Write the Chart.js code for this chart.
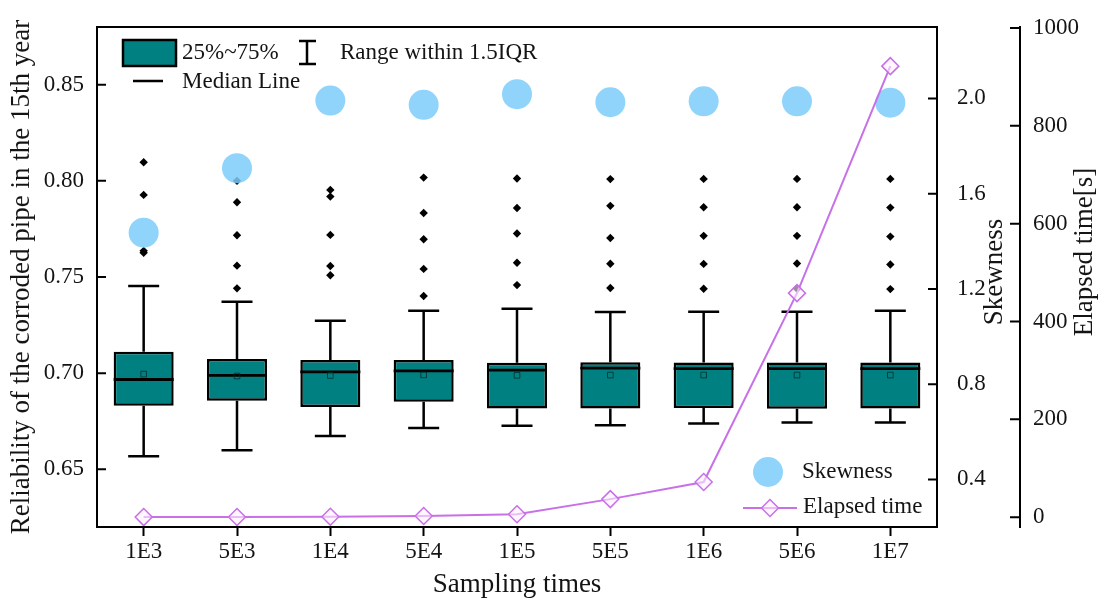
<!DOCTYPE html>
<html>
<head>
<meta charset="utf-8">
<title>Sampling times</title>
<script src="https://cdn.jsdelivr.net/npm/chart.js@4.4.1/dist/chart.umd.min.js"></script>
<style>
  html, body { margin: 0; padding: 0; background: #fff; }
  canvas { display: block; }
</style>
</head>
<body>
<canvas id="chart" width="1103" height="603"></canvas>
<script>
const categories = ["1E3", "5E3", "1E4", "5E4", "1E5", "5E5", "1E6", "5E6", "1E7"];

const q1 = [0.6830, 0.6856, 0.6824, 0.6851, 0.6816, 0.6816, 0.6819, 0.6815, 0.6816];
const q3 = [0.7111, 0.7074, 0.7068, 0.7068, 0.7054, 0.7057, 0.7056, 0.7056, 0.7056];
const medians = [0.6967, 0.6988, 0.7007, 0.7012, 0.7016, 0.7026, 0.7024, 0.7024, 0.7024];
const means = [0.6995, 0.6985, 0.6988, 0.6991, 0.6989, 0.6990, 0.6990, 0.6990, 0.6990];
const whiskerHigh = [0.7453, 0.7371, 0.7272, 0.7324, 0.7335, 0.7318, 0.7319, 0.7319, 0.7324];
const whiskerLow = [0.6568, 0.6599, 0.6673, 0.6715, 0.6726, 0.6729, 0.6738, 0.6743, 0.6743];
const outliers = [
  [0.8097, 0.7927, 0.7636, 0.7626],
  [0.8000, 0.7889, 0.7717, 0.7559, 0.7441],
  [0.7953, 0.7918, 0.7719, 0.7557, 0.7509],
  [0.8017, 0.7833, 0.7696, 0.7542, 0.7401],
  [0.8012, 0.7859, 0.7726, 0.7574, 0.7458],
  [0.8009, 0.7870, 0.7703, 0.7569, 0.7443],
  [0.8010, 0.7863, 0.7714, 0.7568, 0.7439],
  [0.8010, 0.7863, 0.7714, 0.7570, 0.7439],
  [0.8010, 0.7861, 0.7710, 0.7565, 0.7437]
];
const skewness = [1.436, 1.707, 1.991, 1.973, 2.018, 1.984, 1.988, 1.988, 1.982];
const elapsedTime = [0.3, 0.5, 1, 2.5, 6, 37, 72, 458, 922];

const reliabilityTicks = [0.65, 0.70, 0.75, 0.80, 0.85];
const skewTicks = [0.4, 0.8, 1.2, 1.6, 2.0];
const timeTicks = [0, 200, 400, 600, 800, 1000];

const FONT = "'Liberation Serif', 'Times New Roman', serif";
const TEXT = "#141414";
const TEAL = "#008080";
const SKY = "rgba(125, 205, 250, 0.85)";
const VIOLET = "#c870e8";

const outlierPoints = [];
outliers.forEach((lista, i) => lista.forEach(v => outlierPoints.push({ x: categories[i], y: v })));

function setTicks(values) {
  return function (scale) {
    scale.ticks = values.map(v => ({ value: v }));
  };
}

function drawText(ctx, txt, x, y, size, rot) {
  ctx.save();
  ctx.translate(x, y);
  if (rot) ctx.rotate(rot);
  ctx.font = `${size}px ${FONT}`;
  ctx.fillStyle = TEXT;
  ctx.textBaseline = "middle";
  ctx.textAlign = rot ? "center" : "left";
  ctx.fillText(txt, 0, 0);
  ctx.restore();
}

const boxPlot = {
  id: "boxPlot",
  beforeDatasetsDraw(chart) {
    const { ctx, scales: { x, y } } = chart;
    ctx.save();
    ctx.strokeStyle = "#000";
    ctx.lineWidth = 2.5;
    categories.forEach((c, i) => {
      const px = x.getPixelForValue(i);
      const hi = y.getPixelForValue(whiskerHigh[i]);
      const lo = y.getPixelForValue(whiskerLow[i]);
      ctx.beginPath();
      ctx.moveTo(px, hi); ctx.lineTo(px, y.getPixelForValue(q3[i]));
      ctx.moveTo(px, lo); ctx.lineTo(px, y.getPixelForValue(q1[i]));
      ctx.moveTo(px - 15.5, hi); ctx.lineTo(px + 15.5, hi);
      ctx.moveTo(px - 15.5, lo); ctx.lineTo(px + 15.5, lo);
      ctx.stroke();
    });
    ctx.restore();
  },
  afterDatasetDraw(chart, args) {
    if (args.index !== 0) return;
    const { ctx, scales: { y } } = chart;
    ctx.save();
    ctx.strokeStyle = "#000";
    ctx.lineWidth = 2.8;
    args.meta.data.forEach((bar, i) => {
      const w = bar.width / 2;
      const py = y.getPixelForValue(medians[i]);
      ctx.beginPath();
      ctx.moveTo(bar.x - w, py);
      ctx.lineTo(bar.x + w, py);
      ctx.stroke();
    });
    ctx.restore();
  },
  afterDraw(chart) {
    const { ctx, chartArea: a, scales: { y, ySkew, yTime } } = chart;
    ctx.save();
    ctx.strokeStyle = "#000";
    ctx.lineWidth = 2;
    ctx.strokeRect(a.left, a.top, a.right - a.left, a.bottom - a.top);

    // ticks of the three y axes point to the left / inward
    ctx.beginPath();
    reliabilityTicks.forEach(v => {
      const py = y.getPixelForValue(v);
      ctx.moveTo(a.left, py); ctx.lineTo(a.left + 9, py);
    });
    skewTicks.forEach(v => {
      const py = ySkew.getPixelForValue(v);
      ctx.moveTo(a.right - 9, py); ctx.lineTo(a.right, py);
    });
    timeTicks.forEach(v => {
      const py = yTime.getPixelForValue(v);
      ctx.moveTo(yTime.left - 10, py); ctx.lineTo(yTime.left, py);
    });
    ctx.stroke();

    drawText(ctx, "Skewness", ySkew.right - 25, (a.top + a.bottom) / 2 - 5, 27, -Math.PI / 2);
    drawText(ctx, "Elapsed time[s]", yTime.right - 18, (a.top + a.bottom) / 2 - 25, 27, -Math.PI / 2);

    // legend, top left
    ctx.fillStyle = TEAL;
    ctx.lineWidth = 2.5;
    ctx.fillRect(123, 40, 53, 26);
    ctx.strokeRect(123, 40, 53, 26);
    drawText(ctx, "25%~75%", 182, 53, 23);
    ctx.beginPath();
    ctx.moveTo(307, 41); ctx.lineTo(307, 64);
    ctx.moveTo(299, 41); ctx.lineTo(316, 41);
    ctx.moveTo(299, 64); ctx.lineTo(316, 64);
    ctx.moveTo(133, 81); ctx.lineTo(163, 81);
    ctx.stroke();
    drawText(ctx, "Range within 1.5IQR", 340, 53, 23);
    drawText(ctx, "Median Line", 182, 82, 23);

    // legend, bottom right
    ctx.fillStyle = SKY;
    ctx.beginPath();
    ctx.arc(768, 472, 15, 0, Math.PI * 2);
    ctx.fill();
    drawText(ctx, "Skewness", 802, 472, 23);
    ctx.strokeStyle = VIOLET;
    ctx.lineWidth = 2;
    ctx.beginPath();
    ctx.moveTo(743, 508); ctx.lineTo(797, 508);
    ctx.stroke();
    ctx.fillStyle = "rgba(255, 240, 255, 0.6)";
    ctx.lineWidth = 1.5;
    ctx.beginPath();
    ctx.moveTo(770, 499.5); ctx.lineTo(778.5, 508); ctx.lineTo(770, 516.5); ctx.lineTo(761.5, 508);
    ctx.closePath();
    ctx.fill();
    ctx.stroke();
    drawText(ctx, "Elapsed time", 803, 507, 23);
    ctx.restore();
  }
};

const tickFont = { family: FONT, size: 23 };
const titleFont = { family: FONT, size: 27 };

new Chart(document.getElementById("chart"), {
  type: "bar",
  data: {
    labels: categories,
    datasets: [
      {
        label: "25%~75%",
        data: q1.map((v, i) => [v, q3[i]]),
        backgroundColor: TEAL,
        borderColor: "#000",
        borderWidth: 2.5,
        borderSkipped: false,
        barPercentage: 0.643,
        categoryPercentage: 1,
        order: 5
      },
      {
        type: "line",
        label: "Mean",
        data: means,
        showLine: false,
        pointStyle: "rect",
        pointRadius: 4,
        pointBorderWidth: 1,
        pointBorderColor: "rgba(0, 45, 45, 0.8)",
        pointBackgroundColor: "rgba(0,0,0,0)",
        order: 4
      },
      {
        type: "line",
        label: "Outliers",
        data: outlierPoints,
        showLine: false,
        pointStyle: "rectRot",
        pointRadius: 4.2,
        pointBorderWidth: 0,
        pointBackgroundColor: "#000",
        order: 3
      },
      {
        type: "line",
        label: "Skewness",
        data: skewness,
        yAxisID: "ySkew",
        showLine: false,
        pointRadius: 15,
        pointBorderWidth: 0,
        pointBackgroundColor: SKY,
        order: 2
      },
      {
        type: "line",
        label: "Elapsed time",
        data: elapsedTime,
        yAxisID: "yTime",
        borderColor: VIOLET,
        borderWidth: 2,
        pointStyle: "rectRot",
        pointRadius: 8.5,
        pointBorderWidth: 1.5,
        pointBorderColor: VIOLET,
        pointBackgroundColor: "rgba(255, 240, 255, 0.6)",
        order: 1
      }
    ]
  },
  options: {
    responsive: false,
    animation: false,
    layout: { padding: { top: 27, left: 0, right: 0, bottom: 0 } },
    plugins: { legend: { display: false }, tooltip: { enabled: false } },
    scales: {
      x: {
        offset: true,
        grid: { offset: false, drawOnChartArea: false, tickLength: 9, tickWidth: 2, tickColor: "#000" },
        border: { color: "#000", width: 2 },
        ticks: { font: tickFont, color: TEXT, padding: 2, maxRotation: 0 },
        title: { display: true, text: "Sampling times", font: titleFont, color: TEXT, padding: { top: 0, bottom: 2 } },
        afterFit(s) { s.height = 76; }
      },
      y: {
        position: "left",
        min: 0.62,
        max: 0.88,
        afterBuildTicks: setTicks(reliabilityTicks),
        grid: { drawOnChartArea: false, drawTicks: false },
        border: { color: "#000", width: 2 },
        ticks: { font: tickFont, color: TEXT, padding: 13, callback: v => v.toFixed(2) },
        title: {
          display: true, text: "Reliability of the corroded pipe in the 15th year",
          font: titleFont, color: TEXT, padding: { top: 6, bottom: 0 }
        },
        afterFit(s) { s.width = 97; }
      },
      ySkew: {
        position: "right",
        min: 0.2,
        max: 2.3,
        afterBuildTicks: setTicks(skewTicks),
        grid: { drawOnChartArea: false, drawTicks: true, tickLength: 7, tickColor: "rgba(0,0,0,0)" },
        border: { color: "#000", width: 2 },
        ticks: { font: tickFont, color: TEXT, padding: 13, callback: v => v.toFixed(1) },
        afterFit(s) { s.width = 83; }
      },
      yTime: {
        position: "right",
        min: -20,
        max: 1002,
        afterBuildTicks: setTicks(timeTicks),
        grid: { drawOnChartArea: false, drawTicks: false },
        border: { color: "#000", width: 2 },
        ticks: { font: tickFont, color: TEXT, padding: 13, callback: v => String(v) },
        afterFit(s) { s.width = 83; }
      }
    }
  },
  plugins: [boxPlot]
});
</script>
</body>
</html>
